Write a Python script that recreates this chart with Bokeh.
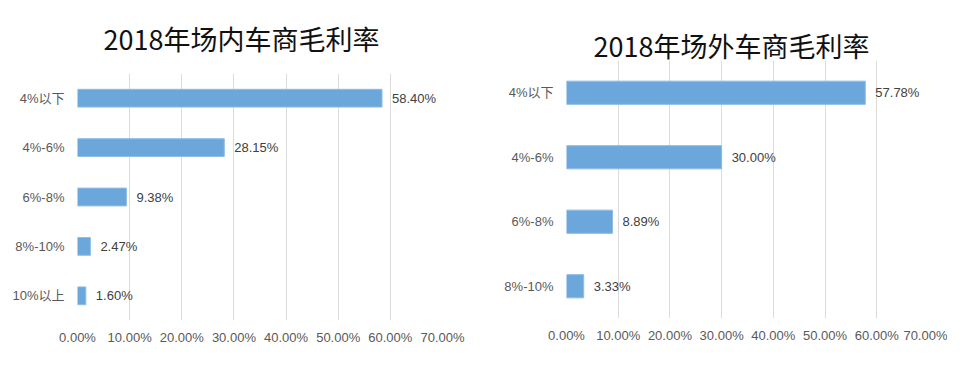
from bokeh.plotting import figure
from bokeh.layouts import row, column
from bokeh.models import FactorRange, Range1d, ColumnDataSource
from bokeh.core.properties import value
from bokeh.embed import file_html
from bokeh.resources import INLINE

title_left = "2018年场内车商毛利率"
cats_left = ["4%以下", "4%-6%", "6%-8%", "8%-10%", "10%以上"]
vals_left = [58.40, 28.15, 9.38, 2.47, 1.60]

title_right = "2018年场外车商毛利率"
cats_right = ["4%以下", "4%-6%", "6%-8%", "8%-10%"]
vals_right = [57.78, 30.00, 8.89, 3.33]

x_ticks = [0, 10, 20, 30, 40, 50, 60, 70]
x_tick_labels = ["0.00%", "10.00%", "20.00%", "30.00%", "40.00%", "50.00%", "60.00%", "70.00%"]

FONT = "'Liberation Sans', 'Noto Sans CJK SC', sans-serif"
TITLE_FONT = "'Noto Sans CJK SC', sans-serif"
BAR = "#6ba7db"


def make(title, cats, vals, width, height, bl, br, bt, bb, toff, tstand):
    p = figure(width=width, height=height,
               y_range=FactorRange(*reversed(cats)), x_range=Range1d(0, 70),
               output_backend="svg", toolbar_location=None,
               min_border_left=bl, min_border_right=br,
               min_border_top=bt, min_border_bottom=bb,
               title=title)
    p.title.text_font = TITLE_FONT
    p.title.text_font_size = "27px"
    p.title.text_font_style = "normal"
    p.title.text_color = "#111111"
    p.title.align = "left"
    p.title.offset = toff
    p.title.standoff = tstand
    p.outline_line_color = None
    p.background_fill_color = "white"
    p.border_fill_color = "white"

    src = ColumnDataSource(dict(cat=cats, val=vals,
                                lab=[f"{v:.2f}%" for v in vals]))
    p.hbar(y="cat", left=0, right="val", height=0.36, source=src,
           fill_color=BAR, line_color="#8fbde6", line_width=1)
    p.text(x="val", y="cat", text="lab", source=src, x_offset=10,
           text_baseline="middle", text_align="left",
           text_font=value(FONT), text_font_size="13px", text_color="#404040")

    p.xaxis.ticker = x_ticks
    p.xaxis.major_label_overrides = {t: l for t, l in zip(x_ticks, x_tick_labels)}
    p.xgrid.ticker = x_ticks
    p.xgrid.grid_line_color = "#dcdcdc"
    p.ygrid.grid_line_color = None
    for ax in (p.xaxis, p.yaxis):
        ax.axis_line_color = None
        ax.major_tick_line_color = None
        ax.minor_tick_line_color = None
        ax.major_tick_out = 0
        ax.major_tick_in = 0
        ax.minor_tick_out = 0
        ax.minor_tick_in = 0
        ax.major_label_text_font = FONT
        ax.major_label_text_font_size = "13px"
        ax.major_label_text_color = "#595959"
    p.xaxis.major_label_standoff = 9
    p.yaxis.major_label_standoff = 13
    return p


p1 = make(title_left, cats_left, vals_left, 470, 356, 77, 28, 73, 36, 26, 31)
p2 = make(title_right, cats_right, vals_right, 477, 356, 96, 19, 60, 38, 27, -8)

layout = row(column(p1), column(p2))
open("out.html", "w").write(file_html(layout, INLINE))
